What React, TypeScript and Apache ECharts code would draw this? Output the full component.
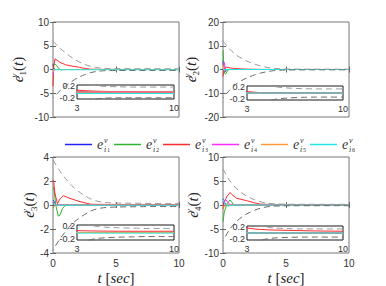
import React, { useEffect, useRef } from "react";
import * as echarts from "echarts";

// ---------- data ----------
const legendNames = ["i1", "i2", "i3", "i4", "i5", "i6"];
const seriesColors = ["#2020ff", "#2fb52f", "#ff2b2b", "#ff2bff", "#ff9b3d", "#22e6e6"];

const tEnv = [0, 0.5, 1, 1.5, 2, 2.5, 3, 3.5, 4, 4.5, 5, 6, 7, 8, 9, 10];

const env1Up = [6.0, 4.6, 3.5, 2.5, 1.7, 1.1, 0.65, 0.4, 0.25, 0.21, 0.19, 0.18, 0.17, 0.17, 0.17, 0.17];
const env1Lo = [-6.0, -4.6, -3.5, -2.5, -1.7, -1.1, -0.65, -0.4, -0.27, -0.23, -0.21, -0.2, -0.2, -0.2, -0.2, -0.2];
const env2Up = [12.0, 8.8, 6.3, 4.6, 3.3, 2.3, 1.5, 0.9, 0.5, 0.3, 0.22, 0.17, 0.15, 0.14, 0.14, 0.14];
const env2Lo = [-12.0, -8.8, -6.3, -4.6, -3.3, -2.3, -1.5, -0.9, -0.5, -0.3, -0.22, -0.17, -0.15, -0.14, -0.14, -0.14];
const env3Up = [3.75, 2.9, 2.2, 1.6, 1.15, 0.8, 0.5, 0.32, 0.23, 0.19, 0.17, 0.15, 0.14, 0.13, 0.13, 0.13];
const env3Lo = [-3.75, -2.9, -2.2, -1.6, -1.15, -0.8, -0.5, -0.32, -0.23, -0.19, -0.17, -0.15, -0.14, -0.13, -0.13, -0.13];
const env4Up = [7.5, 5.2, 3.6, 2.5, 1.7, 1.1, 0.65, 0.38, 0.25, 0.2, 0.17, 0.15, 0.14, 0.14, 0.14, 0.14];
const env4Lo = [-7.5, -5.2, -3.6, -2.5, -1.7, -1.1, -0.65, -0.38, -0.25, -0.2, -0.17, -0.15, -0.14, -0.14, -0.14, -0.14];

// panel 1 (e1)
const p1Blue = [[0, 1.2], [0.05, 0.2], [0.2, 0], [10, 0]];
const p1Green = [[0, 0.3], [0.12, 1.2], [0.3, 0.8], [0.45, 0.2], [0.6, -0.05], [0.9, 0], [10, 0]];
const p1Red = [[0, -3.5], [0.06, 0.8], [0.16, 2.25], [0.3, 2.0], [0.56, 1.5], [1.0, 1.0], [1.35, 0.8], [2.1, 0.45], [2.6, 0.2], [3, 0.06], [4, 0.035], [5, 0.02], [6, 0.01], [8, 0.0], [10, -0.01]];
const p1Magenta = [[0, -1.0], [0.05, -0.2], [0.2, 0], [10, 0]];
const p1Orange = [[0, -0.6], [0.05, 0], [10, 0]];
const p1Cyan = [[0, -0.05], [10, -0.05]];

// panel 2 (e2)
const p2Blue = [[0, 3.5], [0.05, 0.5], [0.15, -1], [0.3, 0], [10, 0]];
const p2Green = [[0, 8], [0.05, 3], [0.12, -1.5], [0.2, -2], [0.35, -0.5], [0.5, 0], [10, 0]];
const p2Red = [[0, -3], [0.06, 0], [0.15, 0.8], [0.3, 1.0], [0.6, 0.6], [1, 0.4], [1.5, 0.25], [2, 0.15], [3, 0.05], [4, 0.01], [10, 0]];
const p2Magenta = [[0, 2], [0.1, 3], [0.2, 0], [10, 0]];
const p2Orange = [[0, 2], [0.08, -0.5], [0.2, 0], [10, 0]];
const p2Cyan = [[0, 0], [10, 0]];

// panel 3 (e3)
const p3Blue = [[0, 0.4], [0.1, 0.3], [0.25, 0], [10, 0]];
const p3Green = [[0, 1.5], [0.08, 1.3], [0.22, 0], [0.42, -0.92], [0.55, -0.85], [0.75, -0.3], [1.0, 0], [10, 0]];
const p3Red = [[0, 2.1], [0.05, 2.0], [0.15, 1.0], [0.35, 0.1], [0.55, 0.5], [0.82, 0.78], [1.35, 0.55], [2.14, 0.28], [3, 0.06], [4, 0.05], [6, 0.04], [10, 0.04]];
const p3Magenta = [[0, 0.2], [0.2, 0], [10, 0]];
const p3Orange = [[0, -0.2], [0.2, 0], [10, 0]];
const p3Cyan = [[0, 0.1], [0.3, -0.02], [10, -0.02]];

// panel 4 (e4)
const p4Blue = [[0, 1.3], [0.15, 0.5], [0.3, -0.2], [0.5, 0], [10, 0]];
const p4Green = [[0, -3.5], [0.1, -1.5], [0.3, 0.2], [0.56, 1.05], [0.7, 0.6], [0.85, 0], [1.0, -0.15], [1.4, 0], [10, 0]];
const p4Red = [[0, -0.8], [0.1, 0.5], [0.29, 1.7], [0.56, 2.6], [0.7, 2.2], [1.08, 1.4], [1.88, 0.9], [2.5, 0.45], [3, 0.17], [3.5, 0.14], [4, 0.12], [5, 0.1], [6, 0.09], [8, 0.07], [10, 0.06]];
const p4Magenta = [[0, 0.5], [0.2, 1.2], [0.4, 0.5], [0.6, 0], [10, 0]];
const p4Orange = [[0, -0.5], [0.3, 0.1], [0.6, 0], [10, 0]];
const p4Cyan = [[0, 1.2], [0.15, 0.3], [0.4, -0.2], [0.8, -0.05], [1.5, 0], [10, 0]];

const yRanges = [
  { min: -10, max: 10, interval: 5 },
  { min: -20, max: 20, interval: 10 },
  { min: -4, max: 4, interval: 2 },
  { min: -10, max: 10, interval: 5 },
];
const ySubs = ["1", "2", "3", "4"];
const insetXTicks = [3, 10];
const insetYTicks = [-0.2, 0, 0.2];

const panelSignals = [
  [p1Blue, p1Green, p1Red, p1Magenta, p1Orange, p1Cyan],
  [p2Blue, p2Green, p2Red, p2Magenta, p2Orange, p2Cyan],
  [p3Blue, p3Green, p3Red, p3Magenta, p3Orange, p3Cyan],
  [p4Blue, p4Green, p4Red, p4Magenta, p4Orange, p4Cyan],
];
const panelEnv = [
  [env1Up, env1Lo],
  [env2Up, env2Lo],
  [env3Up, env3Lo],
  [env4Up, env4Lo],
];

// ---------- layout ----------
const mainGrids = [
  { left: 53, top: 22, width: 126, height: 95 },
  { left: 223, top: 22, width: 126, height: 95 },
  { left: 53, top: 157, width: 126, height: 96 },
  { left: 223, top: 157, width: 126, height: 96 },
];
const insetGrids = [
  { left: 77, top: 85, width: 97, height: 14 },
  { left: 247, top: 86, width: 96, height: 14 },
  { left: 77, top: 225, width: 97, height: 15 },
  { left: 247, top: 226, width: 96, height: 14 },
];
const yNameGaps = [26, 23, 15, 21];

const SERIF = "'Liberation Serif', 'DejaVu Serif', serif";
const SANS = "'Liberation Sans', Arial, sans-serif";

function buildOption() {
  const grid: any[] = [];
  const xAxis: any[] = [];
  const yAxis: any[] = [];
  const series: any[] = [];
  const tickStyle = { show: true, inside: true, length: 3, lineStyle: { color: "#666", width: 1 } };
  const labelStyle = { color: "#333", fontSize: 10, fontFamily: SANS };

  for (let p = 0; p < 4; p++) {
    grid.push({ ...mainGrids[p], show: true, borderColor: "#777", borderWidth: 1, backgroundColor: "transparent" });
  }
  for (let p = 0; p < 4; p++) {
    grid.push({ ...insetGrids[p], show: true, borderColor: "#1a1a1a", borderWidth: 1, backgroundColor: "#fff", z: 3 });
  }

  for (let p = 0; p < 4; p++) {
    const yr = yRanges[p];
    const bottomX = xAxis.length;
    xAxis.push({
      type: "value", gridIndex: p, min: 0, max: 10, interval: 5, position: "bottom",
      axisLine: { show: false }, splitLine: { show: false }, axisTick: tickStyle,
      axisLabel: { show: p >= 2, margin: 5, ...labelStyle },
      name: p >= 2 ? "{i|t} [{i|sec}]" : "",
      nameLocation: "middle", nameGap: 17, nameMoveOverlap: false,
      nameTextStyle: {
        fontFamily: SERIF, fontSize: 15, lineHeight: 15, color: "#222",
        rich: { i: { fontFamily: SERIF, fontStyle: "italic", fontSize: 15, lineHeight: 15, color: "#222" } },
      },
    });
    xAxis.push({
      type: "value", gridIndex: p, min: 0, max: 10, interval: 5, position: "top",
      axisLine: { show: false }, splitLine: { show: false }, axisTick: tickStyle, axisLabel: { show: false },
    });
    const leftY = yAxis.length;
    yAxis.push({
      type: "value", gridIndex: p, min: yr.min, max: yr.max, interval: yr.interval, position: "left",
      axisLine: { show: false }, splitLine: { show: false }, axisTick: tickStyle,
      axisLabel: { margin: 4, ...labelStyle },
      name: `{e|e}{v|v}{s|${ySubs[p]}}{p|(}{e|t}{p|)}`,
      nameLocation: "middle", nameRotate: 90, nameGap: yNameGaps[p], nameMoveOverlap: false,
      nameTextStyle: {
        rich: {
          e: { fontFamily: SERIF, fontStyle: "italic", fontSize: 15, lineHeight: 18, color: "#222" },
          v: { fontFamily: SERIF, fontStyle: "italic", fontSize: 9, lineHeight: 9, verticalAlign: "top", width: 0, color: "#222" },
          s: { fontFamily: SERIF, fontSize: 9, lineHeight: 8, verticalAlign: "bottom", color: "#222" },
          p: { fontFamily: SERIF, fontSize: 15, lineHeight: 18, color: "#222" },
        },
      },
    });
    yAxis.push({
      type: "value", gridIndex: p, min: yr.min, max: yr.max, interval: yr.interval, position: "right",
      axisLine: { show: false }, splitLine: { show: false }, axisTick: tickStyle, axisLabel: { show: false },
    });
    const insetX = xAxis.length;
    xAxis.push({
      type: "value", gridIndex: 4 + p, min: 3, max: 10,
      axisLine: { show: false }, splitLine: { show: false },
      axisTick: { show: false },
      axisLabel: { customValues: insetXTicks, hideOverlap: false, margin: 4, color: "#333", fontSize: 9, fontFamily: SANS },
    });
    const insetY = yAxis.length;
    yAxis.push({
      type: "value", gridIndex: 4 + p, min: -0.24, max: 0.24,
      axisLine: { show: false }, splitLine: { show: false },
      axisTick: { show: false },
      axisLabel: {
        customValues: insetYTicks, hideOverlap: false, showMinLabel: true, showMaxLabel: true,
        margin: 2, color: "#333", fontSize: 9, lineHeight: 9, fontFamily: SANS,
      },
    });

    const targets = [
      { x: bottomX, y: leftY, z: 2 },
      { x: insetX, y: insetY, z: 5 },
    ];
    for (const tg of targets) {
      panelSignals[p].forEach((d, k) => {
        series.push({
          type: "line", name: legendNames[k], xAxisIndex: tg.x, yAxisIndex: tg.y, z: tg.z,
          data: d, symbol: "none", silent: true, clip: true,
          lineStyle: { color: seriesColors[k], width: 1 }, itemStyle: { color: seriesColors[k] },
        });
      });
      const [up, lo] = panelEnv[p];
      series.push({
        type: "line", name: `up${p}`, xAxisIndex: tg.x, yAxisIndex: tg.y, z: tg.z + 1,
        data: tEnv.map((t, i) => [t, up[i]]), symbol: "none", silent: true, smooth: 0.3,
        lineStyle: { color: "#999", width: 1, type: [6, 4] },
      });
      series.push({
        type: "line", name: `lo${p}`, xAxisIndex: tg.x, yAxisIndex: tg.y, z: tg.z + 1,
        data: tEnv.map((t, i) => [t, lo[i]]), symbol: "none", silent: true, smooth: 0.3,
        lineStyle: { color: "#6a6a6a", width: 1, type: [6, 4], dashOffset: 5 },
      });
    }
  }

  return {
    animation: false,
    backgroundColor: "#fff",
    textStyle: { fontFamily: SANS },
    grid, xAxis, yAxis, series,
    legend: {
      data: legendNames,
      left: 60, top: 131,
      itemWidth: 27, itemHeight: 1.5, itemGap: 3, icon: "rect",
      selectedMode: false,
      formatter: (name: string) => `{e|e}{v|v}{s|i}{n|${name.slice(1)}}`,
      textStyle: {
        color: "#333",
        rich: {
          e: { fontFamily: SERIF, fontStyle: "italic", fontSize: 14, lineHeight: 17, width: 7, color: "#333" },
          v: { fontFamily: SERIF, fontStyle: "italic", fontSize: 8, lineHeight: 9, verticalAlign: "top", width: 0, color: "#333" },
          s: { fontFamily: SERIF, fontStyle: "italic", fontSize: 8, lineHeight: 11, verticalAlign: "bottom", width: 3, color: "#333" },
          n: { fontFamily: SERIF, fontSize: 6, lineHeight: 8, verticalAlign: "bottom", width: 4, color: "#333" },
        },
      },
    },
  };
}

export default function App() {
  const ref = useRef<HTMLDivElement>(null);
  useEffect(() => {
    document.body.style.margin = "0";
    if (!ref.current) return;
    const chart = echarts.init(ref.current, undefined, { renderer: "svg" });
    chart.setOption(buildOption() as any);
    return () => chart.dispose();
  }, []);
  return <div ref={ref} style={{ width: 386, height: 286 }} />;
}
